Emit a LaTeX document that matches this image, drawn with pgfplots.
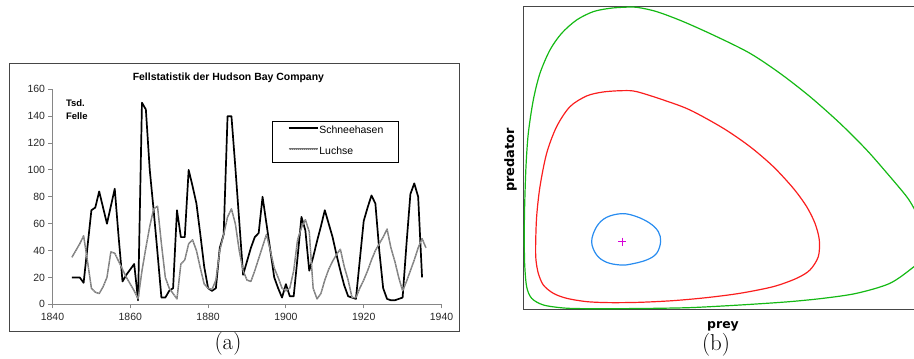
\documentclass[border=0pt]{standalone}
\usepackage{pgfplots}
\pgfplotsset{compat=1.18}
\usepackage{fontspec}
\newfontfamily\arial{Liberation Sans}
\newfontfamily\dvs{DejaVu Sans}

\definecolor{axisgray}{RGB}{134,134,134}
\definecolor{framegray}{RGB}{70,70,70}
\definecolor{lynxgray}{RGB}{115,115,115}
\definecolor{lynxlight}{RGB}{190,190,190}
\definecolor{orbitgreen}{RGB}{20,185,20}
\definecolor{orbitred}{RGB}{250,30,30}
\definecolor{orbitblue}{RGB}{40,140,240}
\definecolor{eqmagenta}{RGB}{215,0,215}

% Hudson Bay Company fur returns, thousands of pelts
\pgfplotstableread{
year hare
1845 20
1846 20
1847 20
1848 16
1849 43
1850 70
1851 72
1852 84
1853 72
1854 60
1855 73
1856 86
1857 50
1858 17
1859 22
1860 26
1861 30
1862 3
1863 150
1864 145
1865 100
1866 70
1867 38
1868 5
1869 5
1870 10
1871 12
1872 70
1873 50
1874 50
1875 100
1876 88
1877 75
1878 52
1879 28
1880 12
1881 10
1882 12
1883 42
1884 52
1885 140
1886 140
1887 102
1888 62
1889 22
1890 32
1891 42
1892 50
1893 53
1894 80
1895 60
1896 40
1897 20
1898 12
1899 5
1900 15
1901 6
1902 6
1903 35
1904 65
1905 55
1906 25
1907 35
1908 47
1909 58
1910 70
1911 60
1912 50
1913 37
1914 25
1915 14
1916 6
1917 5
1918 4
1919 33
1920 62
1921 72
1922 81
1923 75
1924 40
1925 12
1926 4
1927 3
1928 3
1929 4
1930 5
1931 45
1932 82
1933 90
1934 80
1935 20
}\haretable

\pgfplotstableread{
year lynx
1845 35
1846 40
1847 45
1848 51
1849 32
1850 12
1851 9
1852 8
1853 13
1854 20
1855 39
1856 38
1857 32
1858 26
1859 20
1860 15
1861 10
1862 4
1863 25
1864 42
1865 58
1866 71
1867 73
1868 45
1869 20
1870 12
1871 8
1872 4
1873 30
1874 33
1875 45
1876 48
1877 40
1878 27
1879 15
1880 12
1881 11
1882 18
1883 40
1884 52
1885 65
1886 71
1887 60
1888 40
1889 25
1890 18
1891 17
1892 25
1893 34
1894 43
1895 52
1896 40
1897 27
1898 20
1899 12
1900 10
1901 12
1902 25
1903 48
1904 57
1905 63
1906 54
1907 12
1908 4
1909 8
1910 18
1911 26
1912 32
1913 37
1914 41
1915 28
1916 18
1917 5
1918 5
1919 12
1920 18
1921 25
1922 33
1923 40
1924 45
1925 50
1926 56
1927 42
1928 32
1929 20
1930 10
1931 17
1932 25
1933 33
1934 42
1935 49
1936 42
}\lynxtable

\begin{document}
\begin{tikzpicture}[x=1bp,y=1bp]
\path[use as bounding box] (0,0) rectangle (914,358);

% ---------- (a) fur statistics ----------
\draw[framegray, line width=1bp] (9.3,26.3) rectangle (459,294.7);
\node[font=\arial\bfseries\fontsize{10.5}{12}\selectfont, anchor=base]
  at (228.4,277.3) {Fellstatistik der Hudson Bay Company};
\node[font=\arial\bfseries\fontsize{9.5}{11}\selectfont, anchor=base west]
  at (62.5,251.3) {Tsd.};
\node[font=\arial\bfseries\fontsize{9.5}{11}\selectfont, anchor=base west]
  at (62.5,238.7) {Felle};

\begin{axis}[
  at={(52.5bp,53.7bp)}, anchor=south west,
  scale only axis, width=389bp, height=215bp,
  xmin=1840, xmax=1940, ymin=0, ymax=160,
  axis x line*=bottom, axis y line*=left,
  axis line style={axisgray, line width=0.9bp},
  xtick={1840,1860,...,1940}, ytick={0,20,...,160},
  tick align=outside, major tick length=4bp,
  tick style={axisgray, line width=0.9bp},
  ticklabel style={font=\arial\fontsize{10.5}{12}\selectfont, text=black!85},
  xticklabel style={yshift=-1.5bp},
  /pgf/number format/1000 sep={},
  /pgf/number format/assume math mode=true,
  clip=false,
  legend style={at={(0.565,0.854)}, anchor=north west,
    draw=black, line width=0.8bp, fill=white,
    inner xsep=15bp, inner ysep=5.3bp,
    nodes={inner sep=0bp, text height=7.6bp, text depth=2.4bp},
    row sep=10.7bp, column sep=1bp,
    font=\arial\fontsize{10.5}{12}\selectfont},
  legend cell align=left,
  legend image code/.code={\draw[#1] (0bp,3.2bp) -- (29bp,3.2bp);},
]
\addplot[black, line width=1.7bp, line join=round] table[x=year, y=hare] {\haretable};
\addlegendentry{Schneehasen}
\addplot[lynxgray, line width=1.4bp, line join=round,
  postaction={draw=lynxlight, line width=0.4bp, dash pattern=on 1bp off 1bp}]
  table[x=year, y=lynx] {\lynxtable};
\addlegendentry{Luchse}
\end{axis}
\node[font=\fontsize{23}{27}\selectfont, anchor=base] at (228,8.5) {(a)};

% ---------- (b) phase plane ----------
\begin{axis}[
  at={(523.3bp,48.7bp)}, anchor=south west,
  scale only axis, width=395bp, height=302.67bp,
  xmin=0, xmax=1185, ymin=0, ymax=908,
  xtick=\empty, ytick=\empty,
  axis line style={framegray, line width=1.2bp},
]
\addplot[orbitgreen, line width=1.2bp, smooth cycle, tension=0.5] coordinates {
  (1172,128) (1100,78) (1000,48) (900,33) (800,23) (700,16) (600,10)
  (500,5) (400,3) (300,2) (180,2) (120,4) (60,13) (25,33) (10,68)
  (4,138) (3,228) (4,308) (8,428) (15,528) (30,628) (50,708) (80,778)
  (115,828) (160,868) (210,893) (260,903) (300,906) (340,906) (400,893)
  (480,863) (580,818) (680,768) (770,708) (860,638) (950,558)
  (1030,478) (1100,398) (1150,338) (1172,303) (1200,250) (1212,200)
  (1198,155)};
\addplot[orbitred, line width=1.2bp, smooth cycle, tension=0.5] coordinates {
  (37,193) (40,278) (50,368) (70,468) (100,548) (140,608) (190,640)
  (240,652) (300,656) (340,653) (420,628) (500,598) (600,543) (680,488)
  (750,428) (810,363) (850,308) (875,258) (888,208) (885,158) (860,118)
  (820,93) (750,68) (650,48) (550,35) (450,26) (350,21) (260,20)
  (190,23) (130,33) (90,48) (60,73) (45,108) (38,148)};
\addplot[orbitblue, line width=1.2bp, smooth cycle, tension=0.6] coordinates {
  (205,203) (220,248) (250,276) (297,287) (340,278) (380,258) (405,233)
  (412,203) (400,168) (370,148) (320,135) (290,133) (250,141) (220,163)};
\addplot[only marks, mark=+, mark size=4bp, eqmagenta,
  mark options={line width=0.9bp}] coordinates {(297,203)};
\end{axis}
\node[font=\dvs\bfseries\fontsize{13}{15}\selectfont, rotate=90, anchor=base]
  at (514,198) {predator};
\node[font=\dvs\bfseries\fontsize{12.5}{15}\selectfont, anchor=base]
  at (723,30) {prey};
\node[font=\fontsize{23}{27}\selectfont, anchor=base] at (716,7.5) {(b)};
\end{tikzpicture}
\end{document}
